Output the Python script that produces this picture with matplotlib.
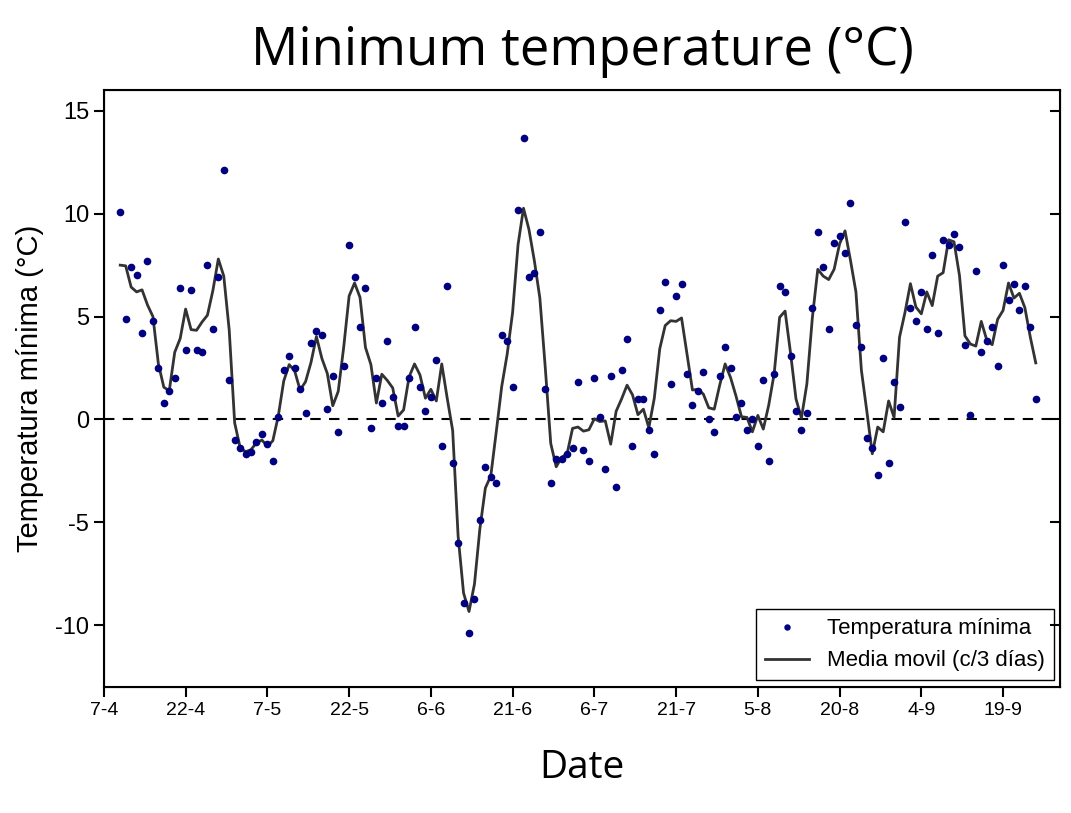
import matplotlib.pyplot as plt
import numpy as np
import pandas as pd

plt.rcParams['font.family'] = ['Liberation Sans', 'DejaVu Sans']
plt.rcParams['axes.unicode_minus'] = False

# day index counted from 7-4 (first observation on day 3)
start_day = 3
tmin = [10.1, 4.9, 7.4, 7.0, 4.2, 7.7, 4.8, 2.5, 0.8, 1.4,
        2.0, 6.4, 3.4, 6.3, 3.4, 3.3, 7.5, 4.4, 6.9, 12.1,
        1.9, -1.0, -1.4, -1.7, -1.6, -1.1, -0.7, -1.2, -2.0, 0.1,
        2.4, 3.1, 2.5, 1.5, 0.3, 3.7, 4.3, 4.1, 0.5, 2.1,
        -0.6, 2.6, 8.5, 6.9, 4.5, 6.4, -0.4, 2.0, 0.8, 3.8,
        1.1, -0.3, -0.3, 2.0, 4.5, 1.6, 0.4, 1.1, 2.9, -1.3,
        6.5, -2.1, -6.0, -8.9, -10.4, -8.7, -4.9, -2.3, -2.8, -3.1,
        4.1, 3.8, 1.6, 10.2, 13.7, 6.9, 7.1, 9.1, 1.5, -3.1,
        -1.9, -1.9, -1.7, -1.4, 1.8, -1.5, -2.0, 2.0, 0.1, -2.4,
        2.1, -3.3, 2.4, 3.9, -1.3, 1.0, 1.0, -0.5, -1.7, 5.3,
        6.7, 1.7, 6.0, 6.6, 2.2, 0.7, 1.4, 2.3, 0.0, -0.6,
        2.1, 3.5, 2.5, 0.1, 0.8, -0.5, 0.0, -1.3, 1.9, -2.0,
        2.2, 6.5, 6.2, 3.1, 0.4, -0.5, 0.3, 5.4, 9.1, 7.4,
        4.4, 8.6, 8.9, 8.1, 10.5, 4.6, 3.5, -0.9, -1.4, -2.7,
        3.0, -2.1, 1.8, 0.6, 9.6, 5.4, 4.8, 6.2, 4.4, 8.0,
        4.2, 8.7, 8.5, 9.0, 8.4, 3.6, 0.2, 7.2, 3.3, 3.8,
        4.5, 2.6, 7.5, 5.8, 6.6, 5.3, 6.5, 4.5, 1.0]
days = np.arange(start_day, start_day + len(tmin))
media = pd.Series(tmin).rolling(3, center=True, min_periods=1).mean()

tick_pos = [0, 15, 30, 45, 60, 75, 90, 105, 120, 135, 150, 165]
tick_lab = ['7-4', '22-4', '7-5', '22-5', '6-6', '21-6', '6-7', '21-7',
            '5-8', '20-8', '4-9', '19-9']

fig = plt.figure(figsize=(10.71, 8.13), dpi=100)
ax = fig.add_axes([0.097, 0.155, 0.893, 0.734])

ax.axhline(0, color='black', linestyle=(0, (5, 4)), linewidth=1.5, zorder=1)
ax.plot(days, tmin, 'o', color='#000080', markersize=4.5,
        label='Temperatura mínima', zorder=3)
ax.plot(days, media, color='#333333', linewidth=2,
        label='Media movil (c/3 días)', zorder=2)

ax.set_xlim(0, 175.5)
ax.set_ylim(-13, 16)
ax.set_xticks(tick_pos)
ax.set_xticklabels(tick_lab, fontsize=14)
ax.set_yticks([-10, -5, 0, 5, 10, 15])
ax.tick_params(axis='y', labelsize=17, length=7, width=1.5)
ax.tick_params(axis='x', length=7, width=1.5)
for s in ax.spines.values():
    s.set_linewidth(1.5)

ax2 = ax.twinx()
ax2.set_ylim(ax.get_ylim())
ax2.set_yticks([-10, -5, 0, 5, 10, 15])
ax2.tick_params(axis='y', direction='in', length=7, width=1.5, labelright=False)

ax.set_title('Minimum temperature (°C)', fontsize=38, pad=18, family='Open Sans')
ax.set_xlabel('Date', fontsize=28, labelpad=22, family='Open Sans')
ax.set_ylabel('Temperatura mínima (°C)', fontsize=21, labelpad=8)

ax.legend(loc='lower right', fontsize=16, fancybox=False, edgecolor='black',
          framealpha=1, borderaxespad=0.3, markerscale=0.8)

plt.savefig('out.png')
